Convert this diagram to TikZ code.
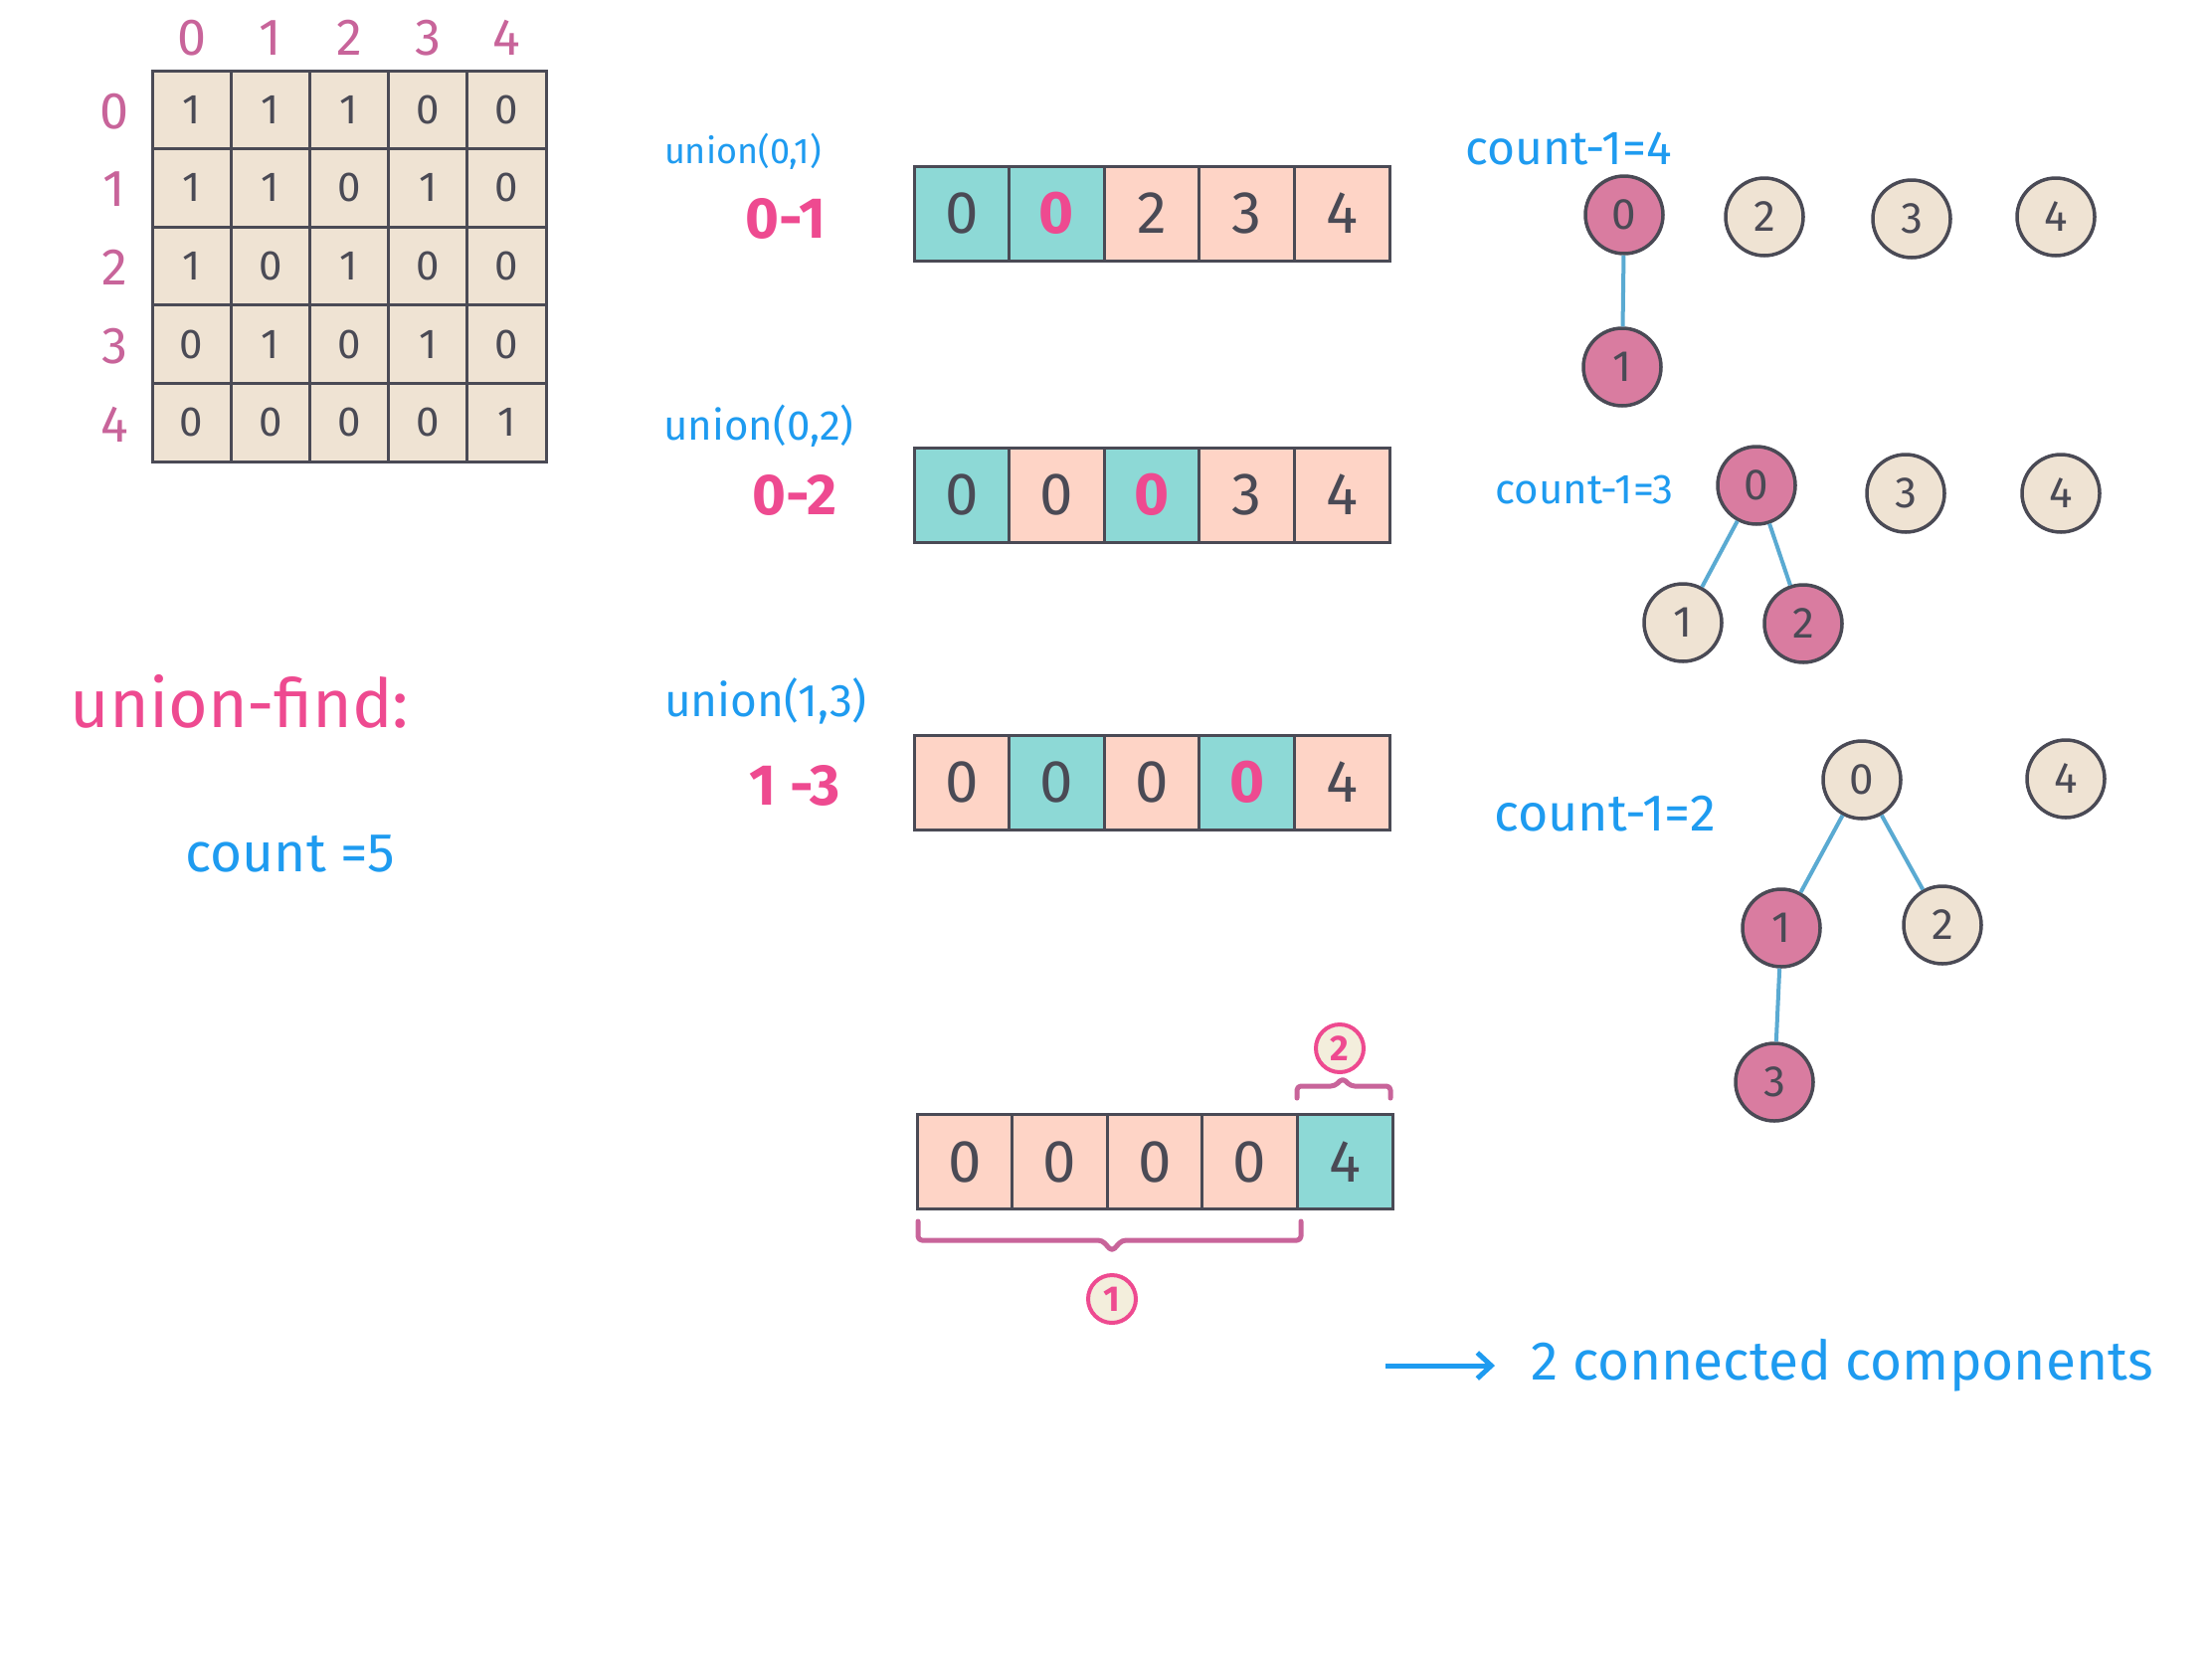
\documentclass[tikz,border=0pt]{standalone}
\usepackage{fontspec}
\setmainfont{Fira Sans}
\usetikzlibrary{arrows.meta}
\definecolor{cteal}{HTML}{8DD9D6}
\definecolor{cpeach}{HTML}{FED4C6}
\definecolor{cbeige}{HTML}{EFE3D3}
\definecolor{cpnode}{HTML}{D97CA0}
\definecolor{cptxt}{HTML}{EE4A90}
\definecolor{cmauve}{HTML}{C8649A}
\definecolor{cblue}{HTML}{1E9BF0}
\definecolor{cline}{HTML}{4A4A55}
\definecolor{cedge}{HTML}{5AAAD2}
\definecolor{ccirc}{HTML}{F3EEDC}
\newcommand{\fs}[1]{\fontsize{#1}{#1}\selectfont}
\begin{document}
\begin{tikzpicture}[x=1pt,y=-1pt,
  mcell/.style={draw=cline, line width=3pt, minimum width=79.2pt, minimum height=78.6pt, inner sep=0pt, fill=cbeige, text=cline, font=\fs{42}},
  mlabel/.style={text=cmauve, font=\fs{52}, inner sep=0pt},
  acell/.style={draw=cline, line width=3pt, minimum width=95.6pt, minimum height=95pt, inner sep=0pt, text=cline, font=\fs{60}},
  gnode/.style={circle, draw=cline, line width=3.5pt, minimum size=78pt, inner sep=0pt, text=cline, font=\fs{44}},
  pinkn/.style={gnode, fill=cpnode},
  beign/.style={gnode, fill=cbeige},
  edge/.style={draw=cedge, line width=4pt},
  bluetxt/.style={text=cblue, inner sep=0pt},
  pinktxt/.style={text=cptxt, inner sep=0pt},
  bracket/.style={draw=cmauve, line width=5pt, rounded corners=4pt, line cap=round, line join=round},
  cnum/.style={circle, draw=cptxt, fill=ccirc, line width=4pt, minimum size=48pt, inner sep=0pt, text=cptxt, font=\fs{36}\bfseries}
]
\useasboundingbox[fill=white] (0,0) rectangle (2224,1668);

% ---------------- adjacency matrix ----------------
\foreach \row [count=\r from 0] in {{1,1,1,0,0},{1,1,0,1,0},{1,0,1,0,0},{0,1,0,1,0},{0,0,0,0,1}}
  \foreach \v [count=\c from 0] in \row
    \node[mcell] (m\r-\c) at ({192.6+79.2*\c},{110.3+78.6*\r}) {\v};
\foreach \c in {0,...,4}
  \node[mlabel] (col\c) at ({192.6+79.2*\c},38) {\c};
\foreach \r in {0,...,4}
  \node[mlabel] (row\r) at (115,{112+78.6*\r}) {\r};

% ---------------- left texts ----------------
\node[pinktxt, font=\fs{68}] (uf) at (241,705) {union-find:};
\node[bluetxt, font=\fs{55}] (cnt5) at (292,858) {count =5};

% ---------------- step 1 ----------------
\node[bluetxt, font=\fs{36}] (u1) at (747,152) {union(0,1)};
\node[pinktxt, font=\fs{58}\bfseries] (p1) at (790,220) {0-1};
\foreach \f/\t [count=\i from 0] in {cteal/0, cteal/{\textcolor{cptxt}{\bfseries 0}}, cpeach/2, cpeach/3, cpeach/4}
  \node[acell, fill=\f] (a1-\i) at ({966.8+95.6*\i},214.5) {\t};
\node[bluetxt, font=\fs{48}] (c1) at (1577,149) {count-1=4};
\node[pinkn] (g1n0) at (1633,216) {0};
\node[beign] (g1n2) at (1774,218) {2};
\node[beign] (g1n3) at (1922,220) {3};
\node[beign] (g1n4) at (2067,218) {4};
\node[pinkn] (g1n1) at (1631,369) {1};
\draw[edge] (g1n0) -- (g1n1);

% ---------------- step 2 ----------------
\node[bluetxt, font=\fs{42}] (u2) at (763,428) {union(0,2)};
\node[pinktxt, font=\fs{58}\bfseries] (p2) at (799,498) {0-2};
\foreach \f/\t [count=\i from 0] in {cteal/0, cpeach/0, cteal/{\textcolor{cptxt}{\bfseries 0}}, cpeach/3, cpeach/4}
  \node[acell, fill=\f] (a2-\i) at ({966.8+95.6*\i},497.5) {\t};
\node[bluetxt, font=\fs{42}] (c2) at (1593,492) {count-1=3};
\node[pinkn] (g2n0) at (1766,488) {0};
\node[beign] (g2n3) at (1916,496) {3};
\node[beign] (g2n4) at (2072,496) {4};
\node[beign] (g2n1) at (1692,626) {1};
\node[pinkn] (g2n2) at (1813,627) {2};
\draw[edge] (g2n0) -- (g2n1);
\draw[edge] (g2n0) -- (g2n2);

% ---------------- step 3 ----------------
\node[bluetxt, font=\fs{46}] (u3) at (770,705) {union(1,3)};
\node[pinktxt, font=\fs{58}\bfseries] (p3) at (799,790) {1 -3};
\foreach \f/\t [count=\i from 0] in {cpeach/0, cteal/0, cpeach/0, cteal/{\textcolor{cptxt}{\bfseries 0}}, cpeach/4}
  \node[acell, fill=\f] (a3-\i) at ({966.8+95.6*\i},786.5) {\t};
\node[bluetxt, font=\fs{52}] (c3) at (1614,818) {count-1=2};
\node[beign] (g3n0) at (1872,784) {0};
\node[beign] (g3n4) at (2077,783) {4};
\node[pinkn] (g3n1) at (1791,933) {1};
\node[beign] (g3n2) at (1953,930) {2};
\node[pinkn] (g3n3) at (1784,1088) {3};
\draw[edge] (g3n0) -- (g3n1);
\draw[edge] (g3n0) -- (g3n2);
\draw[edge] (g3n1) -- (g3n3);

% ---------------- final array ----------------
\foreach \f/\t [count=\i from 0] in {cpeach/0, cpeach/0, cpeach/0, cpeach/0, cteal/4}
  \node[acell, fill=\f] (a4-\i) at ({969.8+95.6*\i},1168) {\t};

% bracket 1 (below first four cells)
\draw[bracket] (923,1228) -- (923,1247) -- (1108,1247) -- (1118,1258) -- (1128,1247) -- (1308,1247) -- (1308,1228);
\node[cnum] (n1) at (1118,1306) {1};
% bracket 2 (above last cell)
\draw[bracket] (1304,1104) -- (1304,1092) -- (1342,1092) -- (1350,1084) -- (1358,1092) -- (1398,1092) -- (1398,1104);
\node[cnum] (n2) at (1347,1054) {2};

% conclusion
\coordinate (arrS) at (1393,1373);
\node[bluetxt, font=\fs{55}, anchor=west, inner sep=0pt] (conn) at (1539,1373) {2 connected components};
\draw[draw=cblue, line width=5pt, -{Straight Barb[length=14pt,width=26pt]}] (arrS) -- ([xshift=-36pt]conn.west);
\end{tikzpicture}
\end{document}
